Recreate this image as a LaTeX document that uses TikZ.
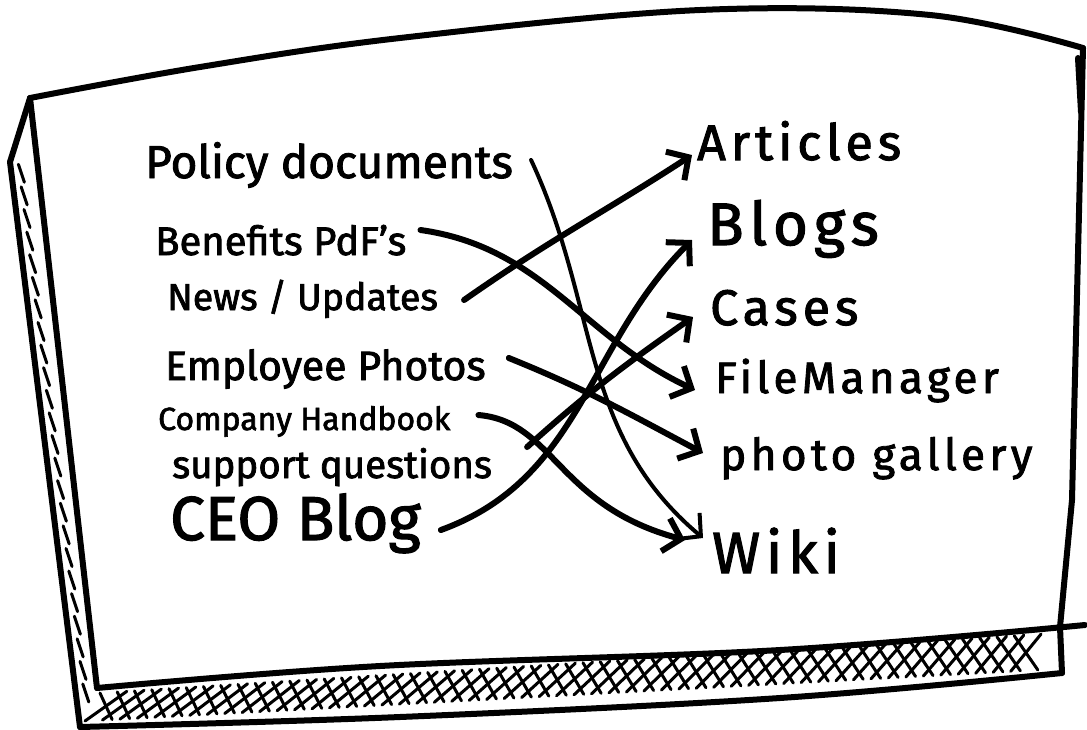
\documentclass[tikz,border=0pt]{standalone}
\usepackage{fontspec}
\setmainfont{Fira Sans}[FakeBold=2]
\newfontfamily\spacedfont[LetterSpace=10,FakeBold=2]{Fira Sans}
\usetikzlibrary{positioning,arrows.meta,calc}

\begin{document}
\begin{tikzpicture}[x=1pt,y=-1pt,
    source node/.style={font=\fontsize{#1}{#1}\selectfont,inner sep=0pt},
    target node/.style={font=\spacedfont\fontsize{#1}{#1}\selectfont,inner sep=0pt},
    board/.style={line width=6pt,line cap=round,line join=round},
    hatch/.style={line width=3pt,line cap=round},
    link/.style={line width=6pt,line cap=round,-{Straight Barb[length=16pt,width=34pt]}}]
    \useasboundingbox (0,0) rectangle (1087,729);

    % the board
    \draw[board] plot[smooth,tension=0.6] coordinates {(30,98) (200,67) (400,38) (700,10) (930,15) (1083,48)};
    \draw[board] (1083,48) -- (1072,500) -- (1060,627) -- (1062,673);
    \draw[board] (1078,58) -- (1081,112);
    \draw[board] (30,98) -- (10,162) -- (80,727);
    \draw[board] (30,98) -- (97,688);
    \draw[board] plot[smooth,tension=0.6] coordinates {(97,688) (380,666) (780,650) (1085,625)};
    \draw[board] plot[smooth,tension=0.6] coordinates {(80,727) (400,717) (780,698) (1062,673)};

    % shading of the frame
    \coordinate (b1) at (100,693);
    \coordinate (b2) at (1058,633);
    \coordinate (b3) at (85,721);
    \coordinate (b4) at (1055,669);
    \foreach \t in {0,0.018,...,0.96}{
        \draw[hatch] ($(b1)!\t!(b2)$) -- ($(b3)!{\t+0.028}!(b4)$);
        \draw[hatch] ($(b1)!{\t+0.028}!(b2)$) -- ($(b3)!\t!(b4)$);
    }
    \coordinate (l1) at (10,162);
    \coordinate (l2) at (80,727);
    \foreach \s in {0.02,0.06,...,0.96}
        \draw[hatch] ($(l1)!\s!(l2)+(7,-9)$) -- ($(l1)!\s!(l2)+(13,9)$);

    % what we have
    \node[source node=46,anchor=base west] (policy) at (145,178) {Policy documents};
    \node[source node=40] (benefits) [below=77pt of policy.base west,anchor=base west,xshift=10pt] {Benefits PdF's};
    \node[source node=37.5] (news) [below=55pt of benefits.base west,anchor=base west,xshift=12pt] {News / Updates};
    \node[source node=41] (photos) [below=70pt of news.base west,anchor=base west,xshift=-2pt] {Employee Photos};
    \node[source node=32] (handbook) [below=50pt of photos.base west,anchor=base west,xshift=-7pt] {Company Handbook};
    \node[source node=38.5] (support) [below=48pt of handbook.base west,anchor=base west,xshift=14pt] {support questions};
    \node[source node=62] (ceo) [below=62pt of support.base west,anchor=base west,xshift=-2pt] {CEO Blog};

    % where it goes
    \node[target node=50,anchor=base west] (articles) at (697,160) {Articles};
    \node[target node=60] (blogs) [below=85pt of articles.base west,anchor=base west,xshift=10pt] {Blogs};
    \node[target node=50] (cases) [below=80pt of blogs.base west,anchor=base west,xshift=3pt] {Cases};
    \node[target node=44] (files) [below=68pt of cases.base west,anchor=base west,xshift=5pt] {FileManager};
    \node[target node=44] (gallery) [below=77pt of files.base west,anchor=base west,xshift=5pt] {photo gallery};
    \node[target node=58] (wiki) [below=103pt of gallery.base west,anchor=base west,xshift=-8pt] {Wiki};

    \path[link]
        ([xshift=18pt,yshift=18pt]policy.base east) edge[out=-65,in=140,line width=4pt] ([xshift=-9pt,yshift=35pt]wiki.base west)
        ([xshift=14pt,yshift=25pt]benefits.base east) edge[out=-8,in=155] ([xshift=-20pt,yshift=3pt]files.base west)
        ([xshift=26pt,yshift=10pt]news.base east) edge[out=35,in=-147] ([xshift=-5pt,yshift=5pt]articles.base west)
        ([xshift=23pt,yshift=22pt]photos.base east) edge[out=-22,in=152] ([xshift=-17pt,yshift=17pt]gallery.base west)
        ([xshift=28pt,yshift=15pt]handbook.base east) edge[out=-5,in=165,out looseness=0.8,in looseness=1.4] ([xshift=-27pt,yshift=33pt]wiki.base west)
        ([xshift=35pt,yshift=31pt]support.base east) edge[out=42,in=-145] ([xshift=-17pt,yshift=8pt]cases.base west)
        ([xshift=20pt,yshift=10pt]ceo.base east) edge[out=20,in=-135] ([xshift=-15pt,yshift=5pt]blogs.base west);
\end{tikzpicture}
\end{document}
